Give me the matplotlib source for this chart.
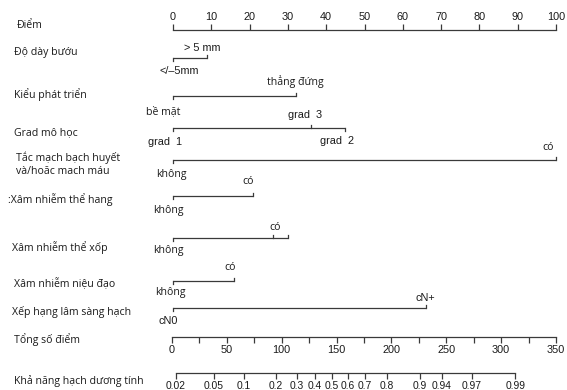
import matplotlib
matplotlib.use("Agg")
import matplotlib.pyplot as plt

# ---------------- data ----------------
points_ticks = [0, 10, 20, 30, 40, 50, 60, 70, 80, 90, 100]

row_names = ["Độ dày bướu", "Kiểu phát triển", "Grad mô học",
             "Tắc mạch bạch huyết\nvà/hoăc mach máu", ":Xâm nhiễm thể hang",
             "Xâm nhiễm thể xốp", "Xâm nhiễm niệu đạo", "Xếp hạng lâm sàng hạch"]

thickness_labels = ["</–5mm", "> 5 mm"]
thickness_points = [0, 9]
growth_labels = ["bề mặt", "thẳng đứng"]
growth_points = [0, 32]
grade_labels = ["grad  1", "grad  3", "grad  2"]
grade_points = [0, 36, 45]
lvi_labels = ["không", "có"]
lvi_points = [0, 100]
cavernosum_labels = ["không", "có"]
cavernosum_points = [0, 21]
spongiosum_labels = ["không", "có", ""]
spongiosum_points = [0, 26, 30]
urethra_labels = ["không", "có"]
urethra_points = [0, 16]
cn_labels = ["cN0", "cN+"]
cn_points = [0, 66]

total_ticks = [0, 50, 100, 150, 200, 250, 300, 350]
total_minor = [25, 75, 125, 175, 225, 275, 325]

prob_labels = ["0.02", "0.05", "0.1", "0.2", "0.3", "0.4", "0.5", "0.6",
               "0.7", "0.8", "0.9", "0.94", "0.97", "0.99"]
prob_total_points = [3.6, 38, 65.6, 94.8, 114, 130.4, 145.9, 160.5,
                     176, 196, 226, 246, 273, 313]

# ---------------- style / layout ----------------
W, H = 567, 390
X0, X1 = 173, 556
LINE_C = "#3a3a3a"
TXT_C = "#1a1a1a"
VN_FONT = ["Open Sans", "DejaVu Sans"]
NUM_FONT = ["Liberation Sans", "DejaVu Sans"]
FS = 7.6
NFS = 7.8

fig = plt.figure(figsize=(W / 100, H / 100), dpi=100)
fig.patch.set_facecolor("white")

ax = fig.add_axes([X0 / W, 0, (X1 - X0) / W, 1])
ax.set_xlim(0, 100)
ax.set_ylim(H, 0)
ax.axis("off")

px = 100 / (X1 - X0)  # data units per pixel

# row definitions: (labels, points, line_y, sides, label y list, dx px list, fonts)
rows = [
    (thickness_labels, thickness_points, 58, ["b", "a"], [71, 48], [6, -5], [NUM_FONT, NUM_FONT]),
    (growth_labels, growth_points, 96, ["b", "a"], [112, 82], [-10, 0], [VN_FONT, VN_FONT]),
    (grade_labels, grade_points, 128, ["b", "a", "b"], [142, 115, 141], [-8, -6, -8], [NUM_FONT] * 3),
    (lvi_labels, lvi_points, 160, ["b", "a"], [174, 148], [-2, -8], [VN_FONT, VN_FONT]),
    (cavernosum_labels, cavernosum_points, 196, ["b", "a"], [211, 181], [-5, -5], [VN_FONT, VN_FONT]),
    (spongiosum_labels, spongiosum_points, 238, ["b", "a", "a"], [251, 227], [-5, 3, 0], [VN_FONT] * 3),
    (urethra_labels, urethra_points, 281, ["b", "a"], [293, 268], [-3, -4], [VN_FONT, VN_FONT]),
    (cn_labels, cn_points, 308, ["b", "a"], [321, 298], [-5, 0], [NUM_FONT, NUM_FONT]),
]

name_pos = [(14, 52), (14, 95), (14, 133), (16, 164), (8, 200), (12, 247), (14, 283), (12, 312)]

for (labels, pts, y, sides, ly, dxs, fonts) in rows:
    ax.plot([min(pts), max(pts)], [y, y], color=LINE_C, lw=0.9, clip_on=False,
            solid_capstyle="butt")
    for i, (lab, v) in enumerate(zip(labels, pts)):
        s = sides[i]
        dy = -3 if s == "a" else 3
        ax.plot([v, v], [y, y + dy], color=LINE_C, lw=0.9, clip_on=False)
        if lab:
            yy = ly[i] if i < len(ly) else ly[-1]
            fs = NFS if fonts[i] is NUM_FONT else FS
            ax.text(v + dxs[i] * px, yy, lab, ha="center", va="center",
                    fontsize=fs, color=TXT_C, family=fonts[i], clip_on=False)

# row names in figure pixel coordinates
for name, (xp, yp) in zip(row_names, name_pos):
    fig.text(xp / W, 1 - yp / H, name, ha="left", va="center", fontsize=FS,
             color=TXT_C, family=VN_FONT, linespacing=1.3)

fig.text(17 / W, 1 - 25 / H, "Điểm", ha="left", va="center", fontsize=FS,
         color=TXT_C, family=VN_FONT)
fig.text(14 / W, 1 - 340 / H, "Tổng số điểm", ha="left", va="center", fontsize=FS,
         color=TXT_C, family=VN_FONT)
fig.text(14 / W, 1 - 381 / H, "Khả năng hạch dương tính", ha="left", va="center",
         fontsize=FS, color=TXT_C, family=VN_FONT)


def scale_axis(y_px, x_left, x_right):
    a = fig.add_axes([x_left / W, 1 - y_px / H, (x_right - x_left) / W, 1e-6])
    a.patch.set_visible(False)
    for sp in a.spines.values():
        sp.set_visible(False)
    a.set_yticks([])
    return a


# points axis (top)
ap = scale_axis(30, X0, X1)
ap.set_xlim(0, 100)
ap.spines["top"].set_visible(True)
ap.spines["top"].set_color(LINE_C)
ap.spines["top"].set_linewidth(0.9)
ap.xaxis.set_ticks_position("top")
ap.xaxis.set_label_position("top")
ap.set_xticks(points_ticks)
ap.set_xticklabels([str(t) for t in points_ticks], family=NUM_FONT)
ap.tick_params(axis="x", direction="out", length=4, width=0.9, color=LINE_C,
               labelsize=NFS, labelcolor=TXT_C, pad=2)

# total points axis
at = scale_axis(337, 172, 556)
at.set_xlim(0, 350)
at.spines["bottom"].set_visible(True)
at.spines["bottom"].set_color(LINE_C)
at.spines["bottom"].set_linewidth(0.9)
at.set_xticks(total_ticks)
at.set_xticks(total_minor, minor=True)
at.set_xticklabels([str(t) for t in total_ticks], family=NUM_FONT)
at.tick_params(axis="x", which="both", direction="out", length=4, width=0.9,
               color=LINE_C, labelsize=NFS, labelcolor=TXT_C, pad=2)

# probability axis
apr = scale_axis(373, 172, 556)
apr.set_xlim(0, 350)
apr.spines["bottom"].set_visible(True)
apr.spines["bottom"].set_color(LINE_C)
apr.spines["bottom"].set_linewidth(0.9)
apr.spines["bottom"].set_bounds(prob_total_points[0], prob_total_points[-1])
apr.set_xticks(prob_total_points)
apr.set_xticklabels(prob_labels, family=NUM_FONT)
apr.tick_params(axis="x", direction="out", length=4, width=0.9, color=LINE_C,
                labelsize=NFS - 0.4, labelcolor=TXT_C, pad=2)

fig.savefig("out.png", dpi=100, facecolor="white")
